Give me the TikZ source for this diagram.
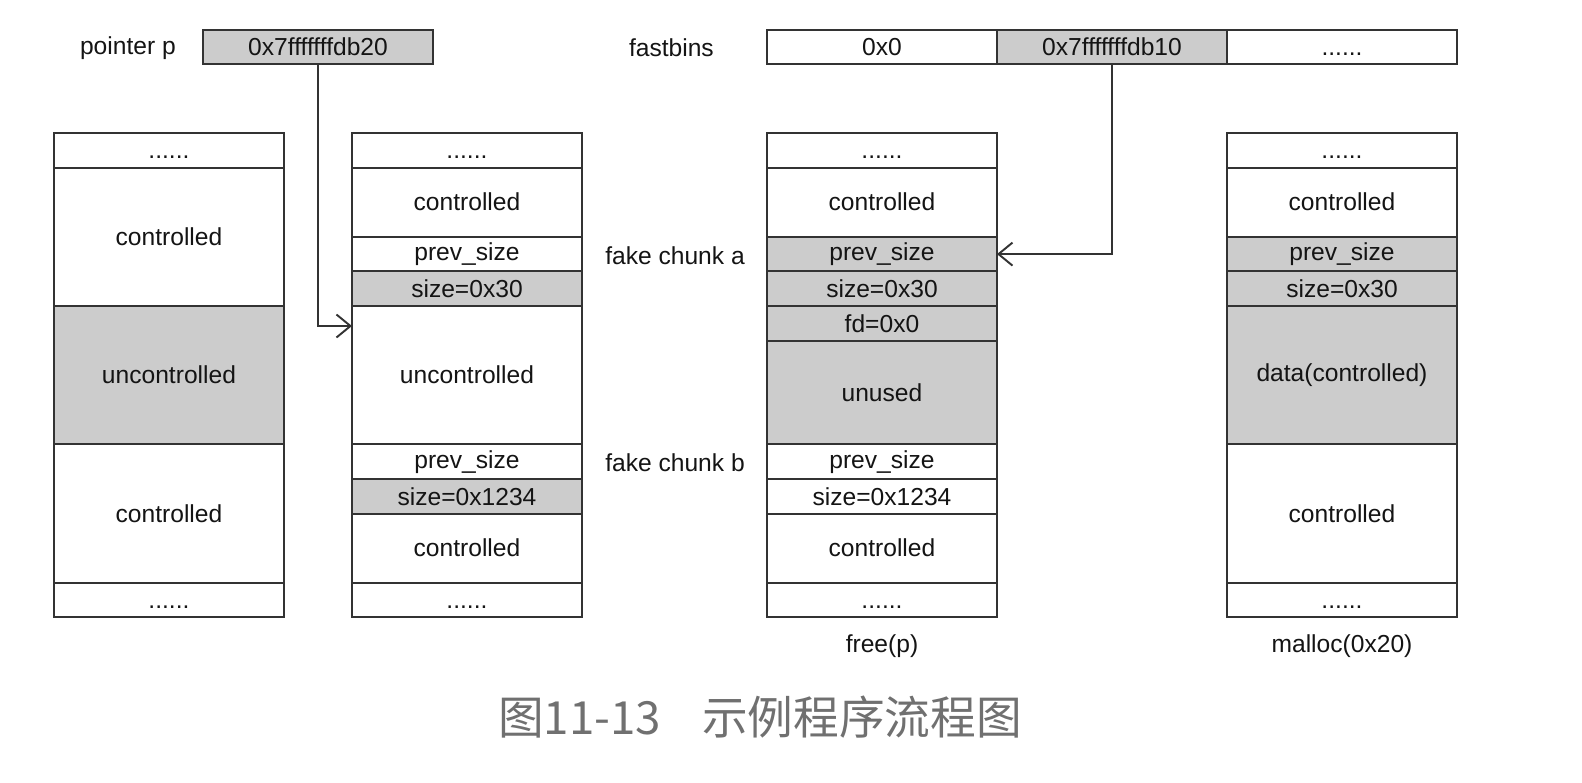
\documentclass[tikz,border=0pt]{standalone}
\usepackage{fontspec}
\usepackage{xcolor}
\setmainfont{Liberation Sans}
\newfontfamily\cjk{Noto Sans CJK SC}
\usetikzlibrary{arrows.meta, positioning}

\definecolor{cellgray}{HTML}{CCCCCC}
\definecolor{linegray}{HTML}{333333}
\definecolor{capgray}{HTML}{707070}
\newcommand{\gapdots}{\vphantom{A}......}

\tikzset{
  cell/.style={draw=linegray, line width=1.1pt, anchor=north west, inner sep=0pt, outer sep=0pt,
    minimum width=4.6cm, text=black!92, font=\fontsize{14}{16}\selectfont},
  slot/.style={draw=linegray, line width=1.1pt, inner sep=0pt, outer sep=0pt,
    minimum width=4.6cm, minimum height=0.68cm, text=black!92, font=\fontsize{14}{16}\selectfont},
  lbl/.style={text=black!92, font=\fontsize{14}{16}\selectfont},
  ptrarrow/.style={draw=linegray, line width=1.1pt, -{Straight Barb[length=2.8mm, width=4.6mm]}}
}

\begin{document}
\begin{tikzpicture}[x=0.02cm, y=-0.02cm]
\useasboundingbox (0,0) rectangle (1582,782);
% pointer and fastbins
\node[lbl, anchor=east] (plabel) at (182,48) {pointer p};
\node[slot, fill=cellgray] (ptr) at (318,47) {0x7fffffffdb20};
\node[lbl, anchor=east] (flabel) at (720,48) {fastbins};
\node[slot] (bin1) at (882,47) {0x0};
\node[slot, fill=cellgray] (bin2) at (1112,47) {0x7fffffffdb10};
\node[slot] (bin3) at (1342,47) {\gapdots};
% memory columns
\foreach \k/\n/\f/\t [count=\i] in {0/1/white/\gapdots, 1/4/white/controlled,
    5/4/cellgray/uncontrolled, 9/4/white/controlled, 13/1/white/\gapdots}
  \node[cell, fill=\f, minimum height={\n*0.692cm}] (m1-\i) at (54,{133+\k*34.6}) {\t};
\foreach \k/\n/\f/\t [count=\i] in {0/1/white/\gapdots, 1/2/white/controlled,
    3/1/white/prev\_size, 4/1/cellgray/size=0x30, 5/4/white/uncontrolled,
    9/1/white/prev\_size, 10/1/cellgray/size=0x1234, 11/2/white/controlled, 13/1/white/\gapdots}
  \node[cell, fill=\f, minimum height={\n*0.692cm}] (m2-\i) at (352,{133+\k*34.6}) {\t};
\foreach \k/\n/\f/\t [count=\i] in {0/1/white/\gapdots, 1/2/white/controlled,
    3/1/cellgray/prev\_size, 4/1/cellgray/size=0x30, 5/1/cellgray/fd=0x0, 6/3/cellgray/unused,
    9/1/white/prev\_size, 10/1/white/size=0x1234, 11/2/white/controlled, 13/1/white/\gapdots}
  \node[cell, fill=\f, minimum height={\n*0.692cm}] (m3-\i) at (767,{133+\k*34.6}) {\t};
\foreach \k/\n/\f/\t [count=\i] in {0/1/white/\gapdots, 1/2/white/controlled,
    3/1/cellgray/prev\_size, 4/1/cellgray/size=0x30, 5/4/cellgray/data(controlled),
    9/4/white/controlled, 13/1/white/\gapdots}
  \node[cell, fill=\f, minimum height={\n*0.692cm}] (m4-\i) at (1227,{133+\k*34.6}) {\t};
% side labels
\node[lbl] (fakea) at (675,256) {fake chunk a};
\node[lbl] (fakeb) at (675,463) {fake chunk b};
\node[lbl] (freep) at (882,646) {free(p)};
\node[lbl] (mallocp) at (1342,646) {malloc(0x20)};
% pointers
\draw[ptrarrow] (ptr.south) |- ([yshift=-0.4cm]m2-5.north west);
\draw[ptrarrow] (bin2.south) |- (m3-3.east);
% caption
\node[text=capgray, font=\cjk\fontsize{26}{30}\selectfont] (caption) at (760,717) {图11-13\hspace{0.9em}示例程序流程图};
\end{tikzpicture}
\end{document}
